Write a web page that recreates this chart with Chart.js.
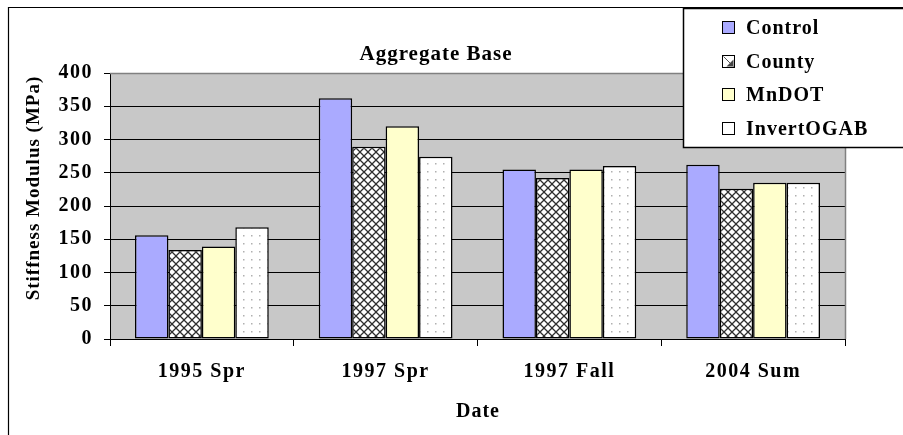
<!DOCTYPE html>
<html>
<head>
<meta charset="utf-8">
<script src="https://cdn.jsdelivr.net/npm/chart.js@4.4.1/dist/chart.umd.min.js"></script>
<style>
  html, body { margin: 0; padding: 0; background: #fff; overflow: hidden; }
  #wrap { width: 903px; height: 435px; position: relative; }
</style>
</head>
<body>
<div id="wrap"><canvas id="c" width="903" height="435"></canvas></div>
<script>
// Survey dates (categories)
const dates = ['1995 Spr', '1997 Spr', '1997 Fall', '2004 Sum'];

// Stiffness modulus (MPa) per test section
const control    = [156, 362, 255, 262];
const county     = [134, 289, 242, 226];
const mndot      = [139, 320, 255, 235];
const invertOGAB = [168, 274, 260, 235];

const seriesNames = ['Control', 'County', 'MnDOT', 'InvertOGAB'];
const yTickValues = [0, 50, 100, 150, 200, 250, 300, 350, 400];

const chartTitle = 'Aggregate Base';
const xAxisTitle = 'Date';
const yAxisTitle = 'Stiffness Modulus (MPa)';

const FONT = "'Liberation Serif', 'Times New Roman', serif";

const canvas = document.getElementById('c');
const ctx = canvas.getContext('2d');

// Fill patterns
function crossHatchPattern() {
  const t = document.createElement('canvas');
  t.width = 8; t.height = 8;
  const g = t.getContext('2d');
  g.fillStyle = '#fff';
  g.fillRect(0, 0, 8, 8);
  g.strokeStyle = '#2e2e2e';
  g.lineWidth = 1.3;
  g.beginPath();
  g.moveTo(-1, -1); g.lineTo(9, 9);
  g.moveTo(9, -1); g.lineTo(-1, 9);
  g.stroke();
  return ctx.createPattern(t, 'repeat');
}
function dotPattern() {
  const t = document.createElement('canvas');
  t.width = 8; t.height = 8;
  const g = t.getContext('2d');
  g.fillStyle = '#fff';
  g.fillRect(0, 0, 8, 8);
  g.fillStyle = '#b0b0b0';
  g.fillRect(3, 3, 1.5, 1.5);
  return ctx.createPattern(t, 'repeat');
}

const fills = ['#aaaaff', crossHatchPattern(), '#ffffcc', dotPattern()];
const seriesData = [control, county, mndot, invertOGAB];

// Page background, outer frame and plot background
const backdrop = {
  id: 'backdrop',
  beforeDraw(chart) {
    const c = chart.ctx, a = chart.chartArea;
    c.save();
    c.fillStyle = '#fff';
    c.fillRect(0, 0, chart.width, chart.height);
    c.strokeStyle = '#000';
    c.lineWidth = 1.2;
    c.beginPath();
    c.moveTo(8.5, chart.height + 2);
    c.lineTo(8.5, 7.5);
    c.lineTo(chart.width + 2, 7.5);
    c.stroke();
    c.fillStyle = '#c8c8c8';
    c.fillRect(a.left, a.top, a.right - a.left, a.bottom - a.top);
    c.restore();
    c.letterSpacing = '1.5px';
  },
  afterDatasetsDraw(chart) {
    const c = chart.ctx, a = chart.chartArea;
    c.save();
    c.strokeStyle = '#808080';
    c.lineWidth = 1.5;
    c.beginPath();
    c.moveTo(a.left, a.top + 0.5);
    c.lineTo(a.right + 0.5, a.top + 0.5);
    c.lineTo(a.right + 0.5, a.bottom);
    c.stroke();
    c.restore();
  }
};

// Titles and the boxed legend
const annotations = {
  id: 'annotations',
  afterDraw(chart) {
    const c = chart.ctx;
    c.save();
    c.fillStyle = '#000';
    c.letterSpacing = '1px';

    c.font = 'bold 21px ' + FONT;
    c.textAlign = 'center';
    c.textBaseline = 'alphabetic';
    c.fillText(chartTitle, 436, 60);

    c.font = 'bold 20px ' + FONT;
    c.fillText(xAxisTitle, 478, 417);

    c.save();
    c.translate(34, 188);
    c.rotate(-Math.PI / 2);
    c.font = 'bold 19px ' + FONT;
    c.textBaseline = 'middle';
    c.fillText(yAxisTitle, 0, 0);
    c.restore();

    // legend box
    c.fillStyle = '#fff';
    c.fillRect(683, 8, 240, 140);
    c.strokeStyle = '#000';
    c.lineWidth = 1.5;
    c.strokeRect(683.5, 8.5, 240, 139);

    c.font = 'bold 20px ' + FONT;
    c.textAlign = 'left';
    c.textBaseline = 'alphabetic';
    seriesNames.forEach((name, i) => {
      const base = 34 + i * 33.6;
      const sx = 722.5, sy = Math.round(base - 13) + 0.5, s = 12;
      c.fillStyle = i === 1 ? '#fff' : (i === 3 ? '#fff' : fills[i]);
      c.fillRect(sx, sy, s, s);
      if (i === 1) {
        c.strokeStyle = '#555';
        c.lineWidth = 1;
        c.beginPath();
        c.moveTo(sx + 1, sy + 1);
        c.lineTo(sx + s - 1, sy + s - 1);
        c.stroke();
        c.fillStyle = '#444';
        c.beginPath();
        c.moveTo(sx + s - 1, sy + 4);
        c.lineTo(sx + s - 1, sy + s - 1);
        c.lineTo(sx + 4, sy + s - 1);
        c.closePath();
        c.fill();
      }
      c.strokeStyle = '#000';
      c.lineWidth = 1;
      c.strokeRect(sx, sy, s, s);
      c.fillStyle = '#000';
      c.fillText(name, 746, base);
    });
    c.restore();
  }
};

new Chart(canvas, {
  type: 'bar',
  data: {
    labels: dates,
    datasets: seriesNames.map((name, i) => ({
      label: name,
      data: seriesData[i],
      backgroundColor: fills[i],
      borderColor: '#000',
      borderWidth: 1.5,
      borderSkipped: false,
      barPercentage: 1.0,
      categoryPercentage: 0.728
    }))
  },
  options: {
    responsive: false,
    animation: false,
    devicePixelRatio: 1,
    layout: { padding: { top: 73, right: 58, left: 0, bottom: 0 } },
    plugins: {
      legend: { display: false },
      title: { display: false },
      tooltip: { enabled: false }
    },
    scales: {
      x: {
        afterFit(scale) { scale.height = 96; },
        grid: {
          offset: true,
          drawOnChartArea: false,
          drawTicks: true,
          tickLength: 7,
          color: '#000',
          lineWidth: 1
        },
        border: { display: true, color: '#000', width: 1 },
        ticks: {
          autoSkip: false,
          maxRotation: 0,
          padding: 14,
          color: '#000',
          font: { family: FONT, size: 20, weight: 'bold' }
        }
      },
      y: {
        min: 0,
        max: 400,
        afterFit(scale) { scale.width = 110; },
        afterBuildTicks(scale) { scale.ticks = yTickValues.map(v => ({ value: v })); },
        grid: {
          drawTicks: true,
          tickLength: 6,
          tickColor: '#000',
          color: c => (c.tick && c.tick.value === 400) ? '#808080' : '#000',
          lineWidth: 1
        },
        border: { display: true, color: '#000', width: 1 },
        ticks: {
          padding: 11,
          color: '#000',
          font: { family: FONT, size: 20, weight: 'bold' }
        }
      }
    }
  },
  plugins: [backdrop, annotations]
});
</script>
</body>
</html>
